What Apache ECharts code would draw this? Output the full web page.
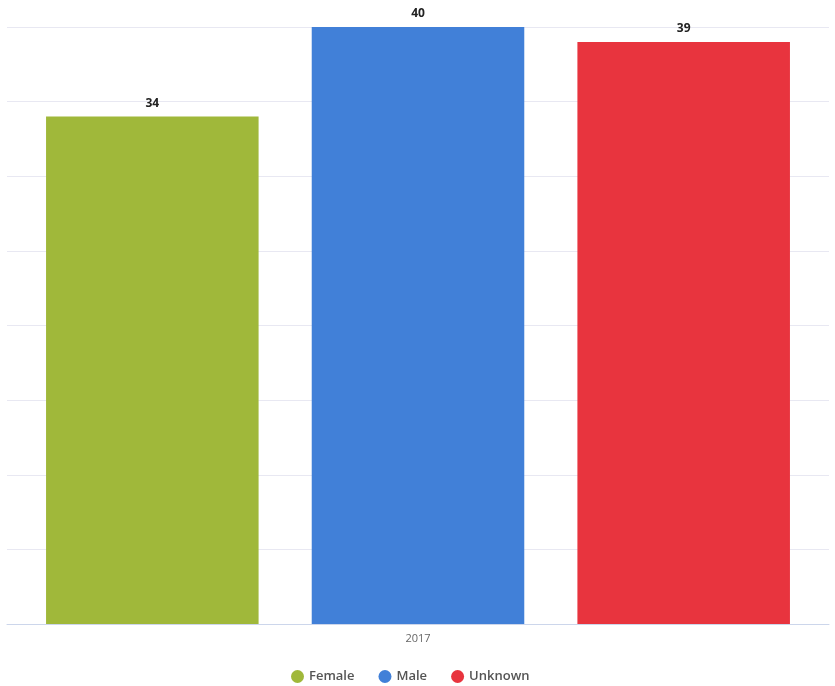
<!DOCTYPE html>
<html>
<head>
<meta charset="utf-8">
<script src="https://cdn.jsdelivr.net/npm/echarts@6/dist/echarts.min.js"></script>
<style>
  html, body { margin: 0; padding: 0; background: #ffffff; }
  #chart { width: 835px; height: 686px; }
</style>
</head>
<body>
<div id="chart"></div>
<script>
// Visits by gender, 2017
const categories = ['2017'];
const seriesNames = ['Female', 'Male', 'Unknown'];
const female = [34];
const male = [40];
const unknown = [39];
const seriesColors = ['#a0b83a', '#4180d8', '#e8343e'];

const chart = echarts.init(document.getElementById('chart'));
const values = [female, male, unknown];

chart.setOption({
  animation: false,
  textStyle: { fontFamily: '"Open Sans", "DejaVu Sans", sans-serif' },
  grid: { left: 7, right: 6, top: 27, bottom: 62, containLabel: false },
  legend: {
    top: 665,
    left: 286,
    icon: 'circle',
    itemWidth: 13,
    itemHeight: 13,
    itemGap: 24,
    textStyle: { color: '#555', fontSize: 13, fontWeight: 600 },
    data: seriesNames
  },
  xAxis: {
    type: 'category',
    data: categories,
    axisLine: { lineStyle: { color: '#ccd6eb', width: 1 } },
    axisTick: { show: false },
    axisLabel: { color: '#666', fontSize: 11, margin: 9 }
  },
  yAxis: {
    type: 'value',
    min: 0,
    max: 40,
    interval: 5,
    axisLabel: { show: false },
    axisLine: { show: false },
    axisTick: { show: false },
    splitLine: { lineStyle: { color: '#e8e8f2', width: 1 } }
  },
  series: seriesNames.map((name, i) => ({
    name: name,
    type: 'bar',
    data: values[i],
    barGap: '25%',
    barCategoryGap: '9.5%',
    itemStyle: { color: seriesColors[i] },
    label: {
      show: true,
      position: 'top',
      distance: 7,
      color: '#222',
      fontSize: 12,
      fontWeight: 'bold'
    }
  }))
});
</script>
</body>
</html>
